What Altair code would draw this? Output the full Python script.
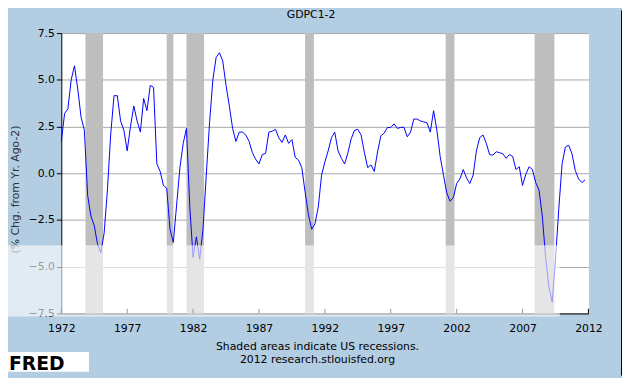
import altair as alt
import pandas as pd

# Quarterly values, 1972Q1 .. 2011Q4 (% chg. from yr. ago)
values = [
    1.7, 3.2, 3.45, 5.0, 5.75, 4.5, 3.0, 2.3,
    -1.2, -2.3, -2.8, -3.8, -4.25, -3.2, -0.9, 2.1,
    4.15, 4.15, 2.8, 2.3, 1.2, 2.5, 3.6, 2.8,
    2.2, 4.0, 3.35, 4.7, 4.6, 0.5, 0.1, -0.65,
    -0.8, -3.0, -3.7, -1.7, 0.3, 1.6, 2.4, -1.8,
    -4.5, -3.4, -4.6, -3.0, -0.1, 2.7, 5.0, 6.2,
    6.45, 6.0, 4.7, 3.6, 2.4, 1.7, 2.2, 2.2,
    2.05, 1.7, 1.1, 0.75, 0.5, 1.0, 1.06, 2.2,
    2.25, 2.35, 1.9, 1.65, 2.05, 1.6, 1.8, 0.85,
    0.7, 0.3, -1.0, -2.2, -3.0, -2.7, -1.8, -0.1,
    0.6, 1.2, 1.9, 2.2, 1.2, 0.8, 0.5, 1.1,
    1.85, 2.3, 2.35, 2.05, 1.1, 0.3, 0.45, 0.1,
    1.15, 2.0, 2.15, 2.45, 2.45, 2.64, 2.4, 2.45,
    2.46, 1.95, 2.2, 2.9, 2.9, 2.8, 2.75, 2.7,
    2.2, 3.35, 2.3, 0.9, -0.1, -1.05, -1.5, -1.3,
    -0.55, -0.3, 0.2, -0.25, -0.55, -0.1, 1.2, 1.9,
    2.05, 1.6, 1.0, 0.97, 1.15, 1.1, 1.05, 0.8,
    1.0, 0.9, 0.2, 0.35, -0.65, -0.05, 0.35, 0.2,
    -0.5, -0.9, -2.3, -4.5, -6.1, -6.9, -4.6, -1.9,
    0.5, 1.4, 1.5, 1.05, 0.15, -0.3, -0.5, -0.35,
]
years = [1972 + i / 4 for i in range(len(values))]

rec_start = [1973.833, 1980.0, 1981.5, 1990.5, 2001.167, 2007.917]
rec_end = [1975.167, 1980.5, 1982.833, 1991.167, 2001.833, 2009.417]

x_ticks = [1972, 1977, 1982, 1987, 1992, 1997, 2002, 2007, 2012]
y_ticks = [-7.5, -5.0, -2.5, 0.0, 2.5, 5.0, 7.5]

line_df = pd.DataFrame({"year": years, "value": values})
rec_df = pd.DataFrame({"start": rec_start, "end": rec_end})
tick_df = pd.DataFrame({"year": x_ticks})

FONT = "DejaVu Sans"
BG = "#B3CDE3"

xscale = alt.Scale(domain=[1972, 2012], nice=False, zero=False)
yscale = alt.Scale(domain=[-7.5, 7.5], nice=False, zero=False)

xaxis = alt.Axis(
    values=x_ticks, format="d", tickSize=0, domainColor="black", domainWidth=1,
    labelColor="black", labelFont=FONT, labelFontSize=11, labelPadding=9,
    labelFlush=False, labelOverlap=False, grid=False, zindex=0,
    title=["Shaded areas indicate US recessions.", "2012 research.stlouisfed.org"],
    titleFont=FONT, titleFontSize=11, titleFontWeight="normal", titleColor="black",
    titleX=259, titleY=28, titleAlign="center", titleBaseline="top", titleLineHeight=13,
)
yaxis = alt.Axis(
    values=y_ticks, format=".1f", tickSize=5, tickColor="black", domainColor="black",
    labelColor="black", labelFont=FONT, labelFontSize=11, labelPadding=2,
    grid=True, gridColor="#A8A8A8", gridWidth=1, zindex=0,
    title="(% Chg. from Yr. Ago-2)", titleFont=FONT, titleFontSize=11,
    titleFontWeight="normal", titleColor="#333333", titleX=-46, titleY=158,
    titleAngle=-90, titleAlign="center", titleBaseline="middle",
)

recessions = alt.Chart(rec_df).mark_rect(color="#BEBEBE").encode(
    x=alt.X("start:Q", scale=xscale, axis=xaxis),
    x2="end:Q",
    y=alt.Y(datum=7.5, scale=yscale, axis=yaxis),
    y2=alt.datum(-7.5),
)

line = alt.Chart(line_df).mark_line(color="#0000FF", strokeWidth=1).encode(
    x=alt.X("year:Q", scale=xscale, axis=xaxis),
    y=alt.Y("value:Q", scale=yscale, axis=yaxis),
)

inner_ticks = alt.Chart(tick_df).mark_rule(color="black", strokeWidth=1).encode(
    x=alt.X("year:Q", scale=xscale, axis=xaxis),
    y=alt.Y(datum=-7.5, scale=yscale, axis=yaxis),
    y2=alt.datum(-7.25),
)

one = pd.DataFrame({"a": [0]})
band = alt.Chart(one).mark_rect(color="white", opacity=0.6).encode(
    x=alt.value(-54), x2=alt.value(505), y=alt.value(215), y2=alt.value(287)
)
logo_box = alt.Chart(one).mark_rect(color="white").encode(
    x=alt.value(-54), x2=alt.value(28), y=alt.value(323), y2=alt.value(343)
)
logo_text = alt.Chart(one).mark_text(
    text="FRED", font=FONT, fontSize=19, fontWeight="bold", color="black",
    align="left", baseline="alphabetic",
).encode(x=alt.value(-53), y=alt.value(341))
title_text = alt.Chart(one).mark_text(
    text="GDPC1-2", font=FONT, fontSize=11, color="black",
    align="center", baseline="alphabetic",
).encode(x=alt.value(253), y=alt.value(-15))
border = alt.Chart(one).mark_rule(color="black", strokeWidth=1).encode(
    x=alt.value(567.5), y=alt.value(-23), y2=alt.value(347)
)

chart = alt.layer(
    recessions, line, inner_ticks, band, logo_box, logo_text, title_text, border
).properties(
    width=534, height=284,
    padding={"left": 54, "top": 23, "right": 34, "bottom": 63},
    autosize=alt.AutoSizeParams(type="none"),
    background=BG,
).configure_view(stroke="transparent", fill="white")

chart.save("out.html", embed_options={"renderer": "svg", "actions": False})
